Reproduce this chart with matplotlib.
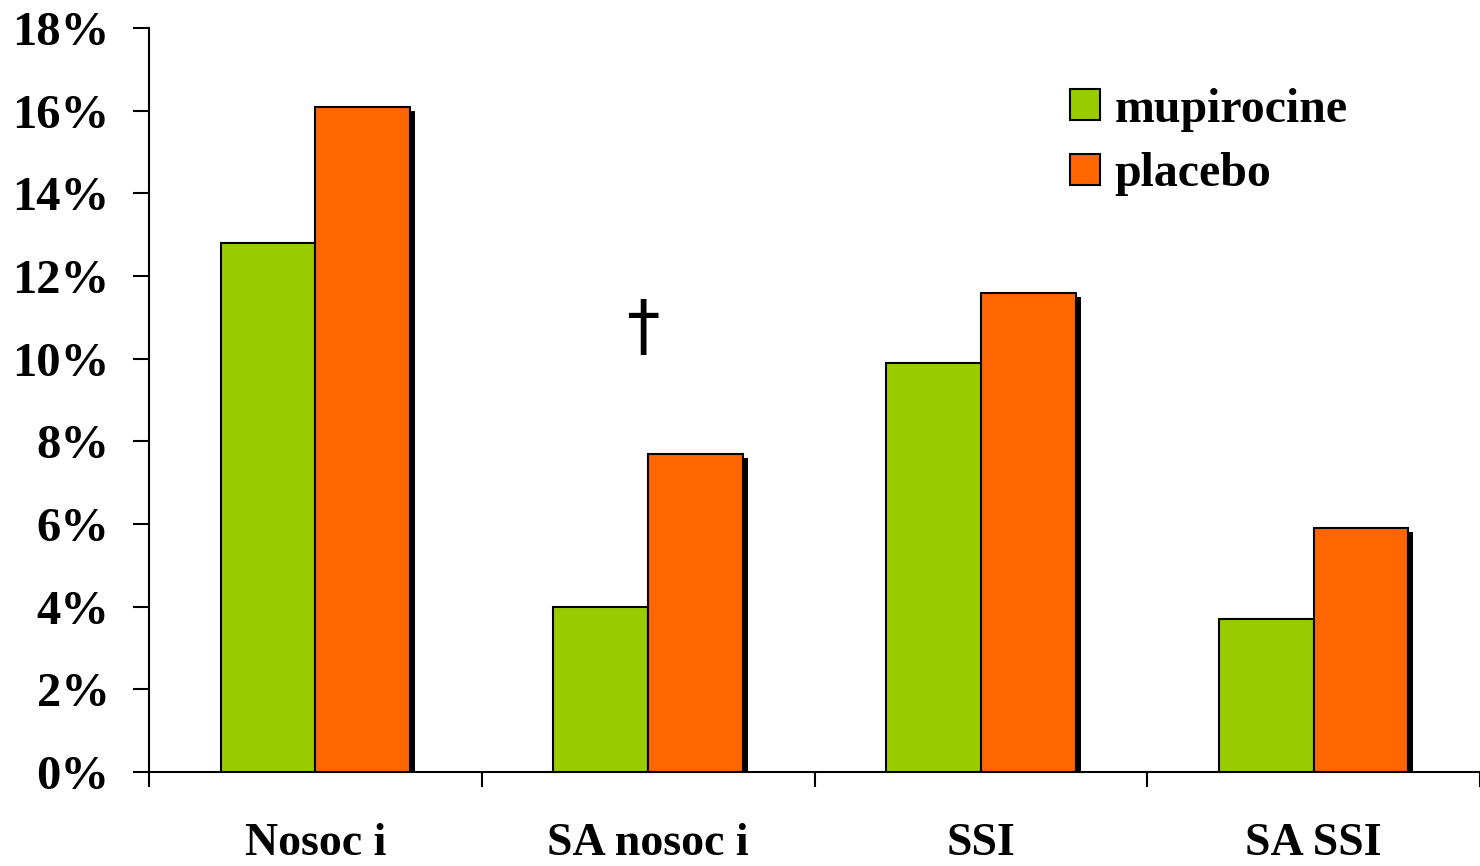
import numpy as np
import matplotlib.pyplot as plt
import matplotlib.patheffects as pe
from matplotlib.ticker import FuncFormatter

plt.rcParams['font.family'] = ['Liberation Serif', 'DejaVu Serif']
plt.rcParams['font.weight'] = 'bold'

categories = ["Nosoc i", "SA nosoc i", "SSI", "SA SSI"]
mupirocine = [12.8, 4.0, 9.9, 3.7]
placebo = [16.1, 7.7, 11.6, 5.9]
series_names = ["mupirocine", "placebo"]
colors = ["#99CC00", "#FF6600"]

fig = plt.figure(figsize=(14.8, 8.66), dpi=100)
ax = fig.add_axes([149/1480, 94/866, 1331/1480, 744/866])

x = np.arange(len(categories))
w = 0.285
shadow = [pe.SimplePatchShadow(offset=(3.5, -3), shadow_rgbFace="black", alpha=1.0), pe.Normal()]
ax.bar(x - w/2, mupirocine, w, color=colors[0], edgecolor="black", linewidth=1.5,
       label=series_names[0], path_effects=shadow, zorder=2)
ax.bar(x + w/2, placebo, w, color=colors[1], edgecolor="black", linewidth=1.5,
       label=series_names[1], path_effects=shadow, zorder=3)

# significance mark
ax.text(0.985, 10.72, "\u2020", fontsize=48, fontweight="normal", family="DejaVu Sans",
        ha="center", va="center")

ax.set_xlim(-0.5, -0.5 + 1331/334.5)
ax.set_ylim(0, 18)
ax.set_yticks(np.arange(0, 19, 2))
ax.yaxis.set_major_formatter(FuncFormatter(lambda v, p: f"{v:.0f}%"))
ax.set_xticks(np.arange(-0.5, 4, 1.0))
ax.set_xticklabels([])
ax.set_xticks(x, minor=True)
ax.set_xticklabels(categories, minor=True)
ax.tick_params(axis="x", which="major", direction="out", length=11, width=1.5)
ax.tick_params(axis="x", which="minor", length=0, pad=37, labelsize=33)
ax.tick_params(axis="y", direction="out", length=11.5, width=1.5, pad=17, labelsize=35)

for s in ["top", "right"]:
    ax.spines[s].set_visible(False)
ax.spines["left"].set_linewidth(1.5)
ax.spines["bottom"].set_linewidth(1.5)
ax.spines["bottom"].set_zorder(1)

leg = ax.legend(loc="upper left", bbox_to_anchor=(0.692, 0.92), frameon=False,
                fontsize=34.5, handlelength=0.62, handleheight=0.62, handletextpad=0.31,
                labelspacing=0.43, borderaxespad=0, borderpad=0)
for h in leg.legend_handles:
    h.set_path_effects([])

fig.savefig("out.png", dpi=100)
